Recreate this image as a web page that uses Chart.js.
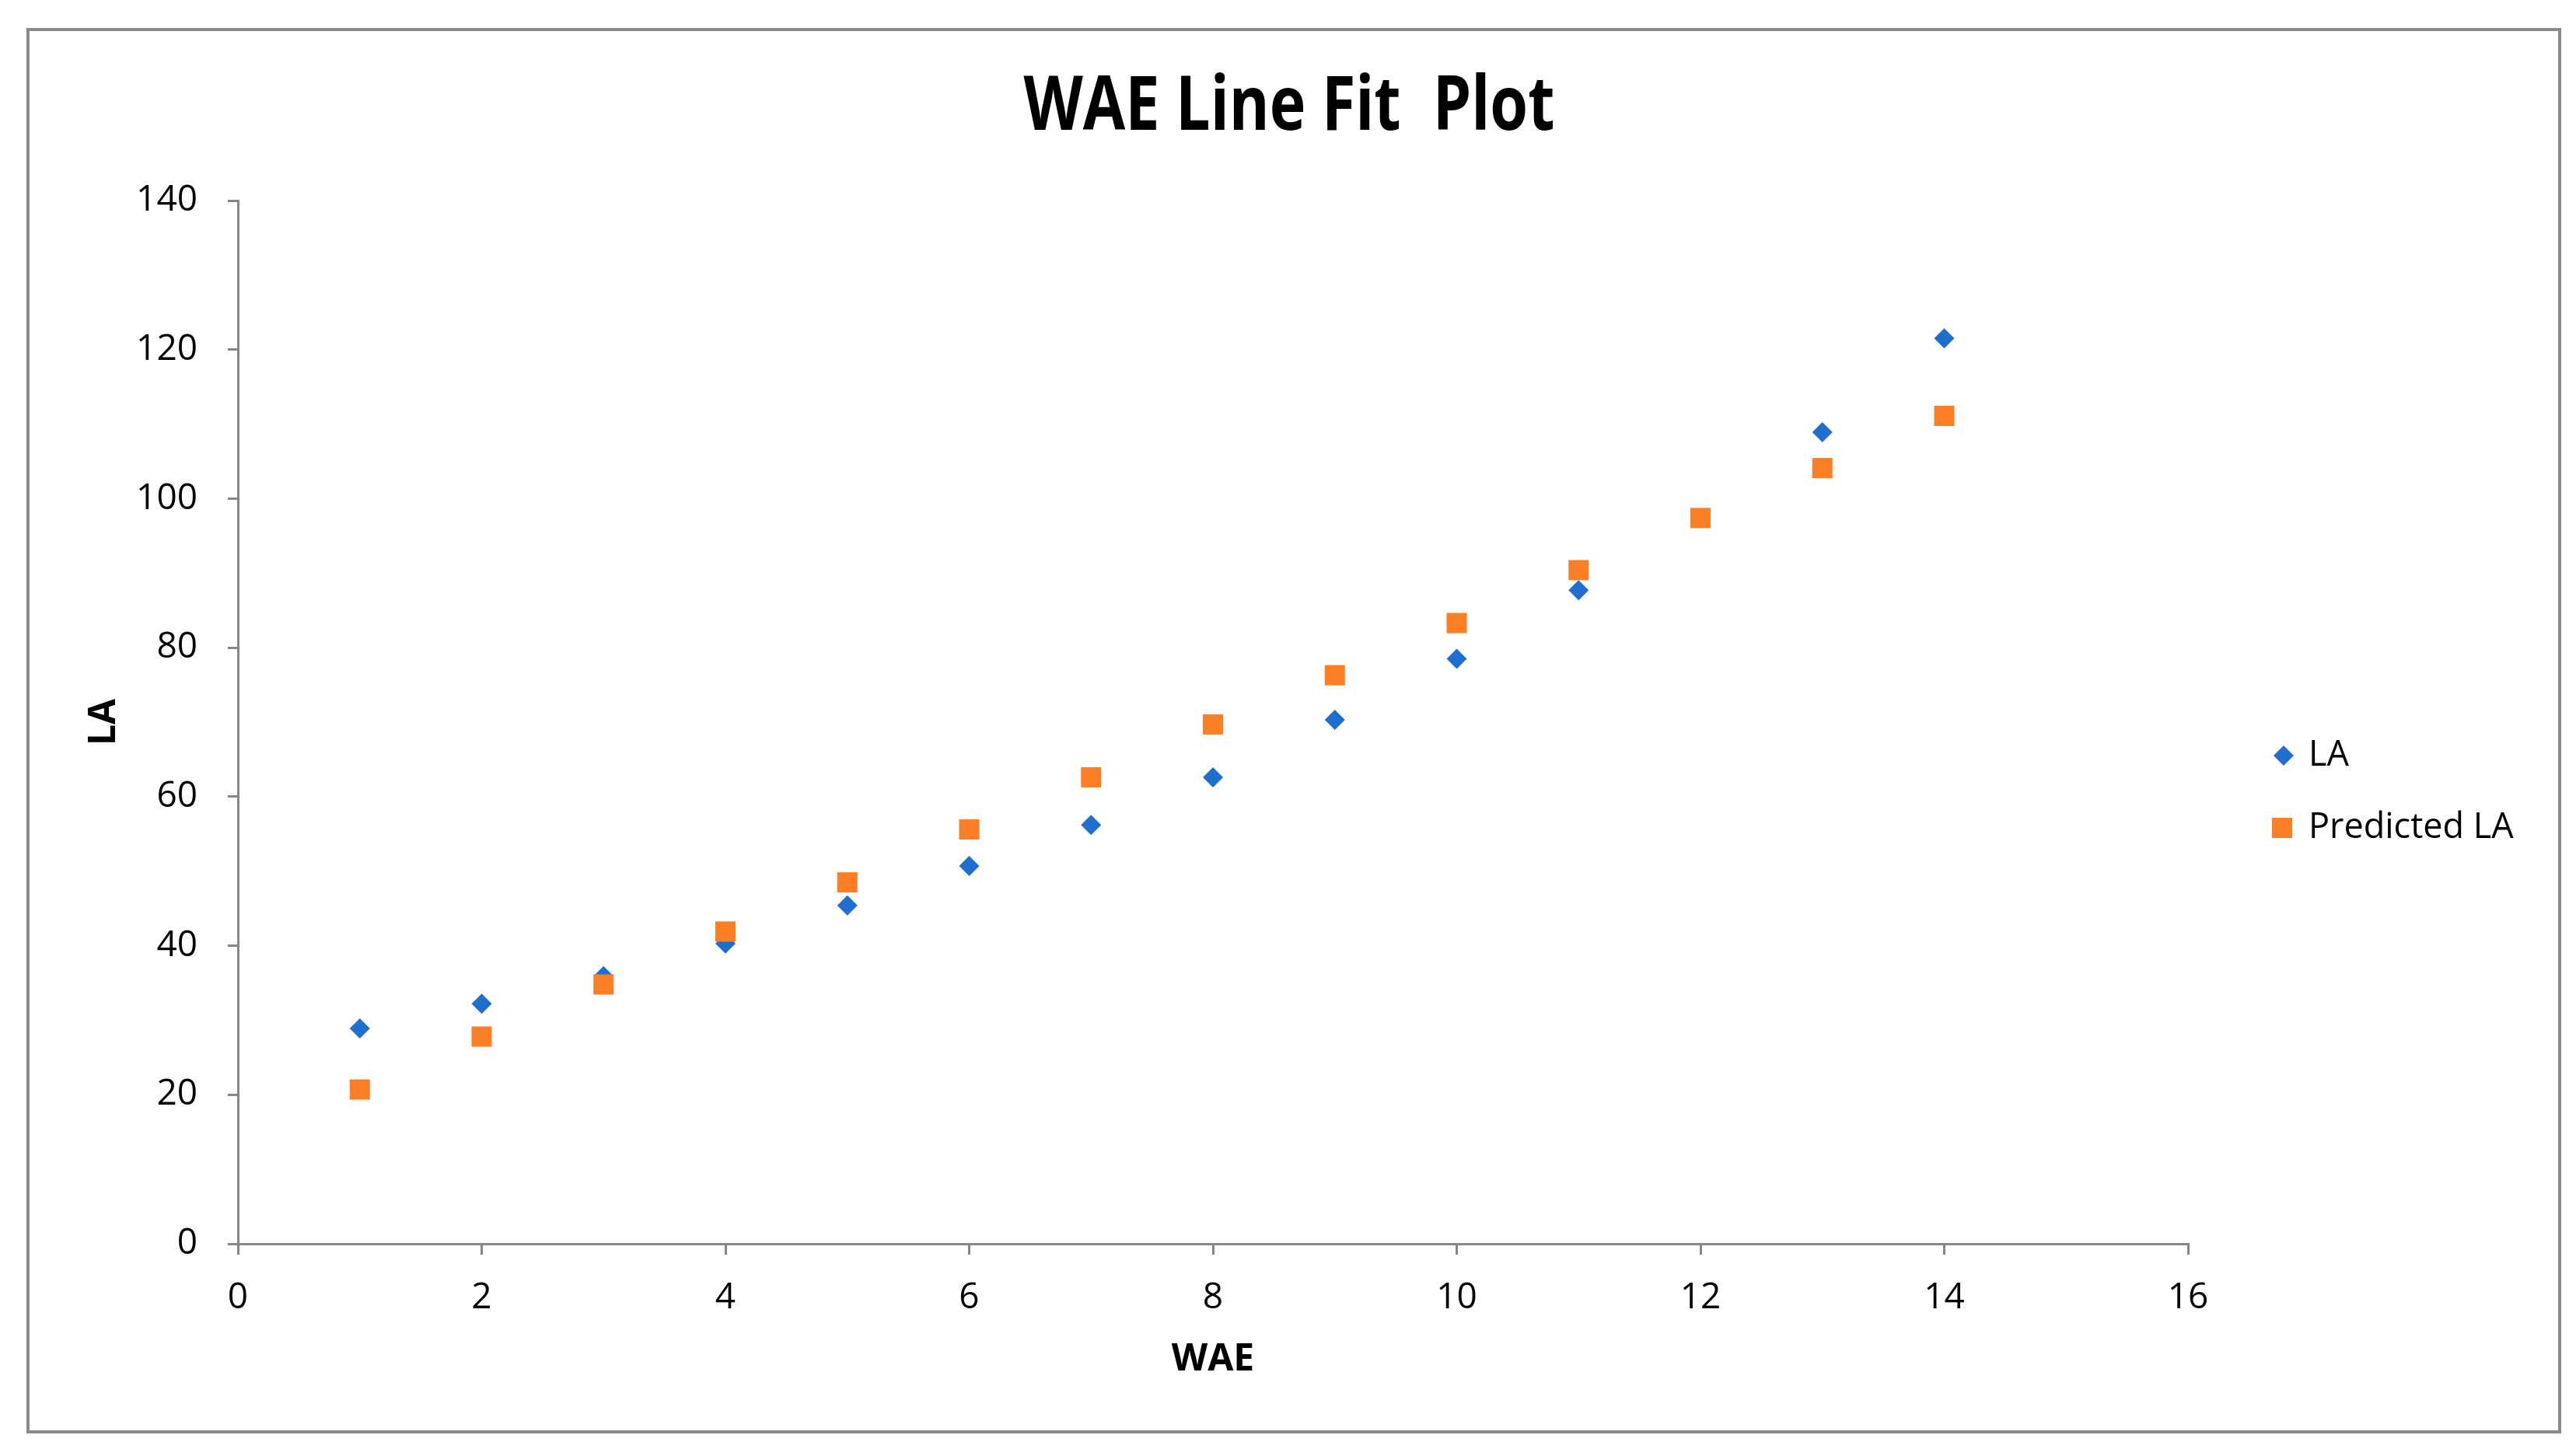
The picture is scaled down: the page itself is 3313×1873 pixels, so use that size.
<!DOCTYPE html>
<html>
<head>
<meta charset="utf-8">
<title>WAE Line Fit Plot</title>
<script src="https://cdn.jsdelivr.net/npm/chart.js@4.4.0/dist/chart.umd.min.js"></script>
<style>
  html, body { margin: 0; padding: 0; background: #fff; }
  #grafico { display: block; }
</style>
</head>
<body>
<canvas id="grafico" width="3313" height="1873"></canvas>
<script>
// dati
const wae = [1, 2, 3, 4, 5, 6, 7, 8, 9, 10, 11, 12, 13, 14];
const la = [28.9, 32.2, 35.9, 40.3, 45.4, 50.7, 56.2, 62.6, 70.3, 78.5, 87.7, 97.4, 108.9, 121.5];
const predictedLa = [20.7, 27.8, 34.8, 41.9, 48.5, 55.6, 62.6, 69.7, 76.3, 83.3, 90.4, 97.4, 104.1, 111.1];
const xTicks = [0, 2, 4, 6, 8, 10, 12, 14, 16];
const yTicks = [0, 20, 40, 60, 80, 100, 120, 140];
const titolo = "WAE Line Fit  Plot";

const blu = "#1f6fcf";
const arancio = "#fd7f25";
const grigio = "#868686";

Chart.defaults.font.family = '"Open Sans", sans-serif';
Chart.defaults.color = "#000";

const dati = {
  datasets: [
    {
      label: "LA",
      data: wae.map((x, i) => ({ x: x, y: la[i] })),
      backgroundColor: blu,
      borderWidth: 0,
      pointStyle: "rectRot",
      pointRadius: 13,
      order: 1,
    },
    {
      label: "Predicted LA",
      data: wae.map((x, i) => ({ x: x, y: predictedLa[i] })),
      backgroundColor: arancio,
      borderWidth: 0,
      pointStyle: "rect",
      pointRadius: 18.4,
      order: 0,
    },
  ],
};

// cornice, titolo e legenda disegnati a mano
const decorazioni = {
  id: "decorazioni",
  beforeDraw(chart) {
    const ctx = chart.ctx;
    ctx.save();
    ctx.fillStyle = "#fff";
    ctx.fillRect(0, 0, chart.width, chart.height);
    ctx.strokeStyle = "#8a8a8a";
    ctx.lineWidth = 4;
    ctx.strokeRect(36, 38, 3256, 1804);
    ctx.restore();
  },
  afterDraw(chart) {
    const ctx = chart.ctx;
    ctx.save();
    ctx.fillStyle = "#000";
    ctx.font = 'bold 96px "Open Sans", sans-serif';
    ctx.textAlign = "center";
    ctx.textBaseline = "middle";
    ctx.fillText(titolo, 1658, 140, 683);

    const righe = [972, 1065];
    chart.data.datasets.forEach(function (ds, i) {
      const y = righe[i];
      ctx.fillStyle = ds.backgroundColor;
      if (ds.pointStyle === "rectRot") {
        ctx.beginPath();
        ctx.moveTo(2937 - 13, y);
        ctx.lineTo(2937, y - 13);
        ctx.lineTo(2937 + 13, y);
        ctx.lineTo(2937, y + 13);
        ctx.closePath();
        ctx.fill();
      } else {
        ctx.fillRect(2935 - 13, y - 13, 26, 26);
      }
      ctx.fillStyle = "#000";
      ctx.font = '45px "Open Sans", sans-serif';
      ctx.textAlign = "left";
      ctx.fillText(ds.label, 2969, y);
    });
    ctx.restore();
  },
};

const opzioni = {
  responsive: false,
  devicePixelRatio: 1,
  animation: false,
  layout: { padding: { top: 258, right: 499, left: 0, bottom: 0 } },
  plugins: {
    legend: { display: false },
    title: { display: false },
    tooltip: { enabled: false },
  },
  scales: {
    x: {
      type: "linear",
      position: "bottom",
      min: 0,
      max: 16,
      afterBuildTicks: (s) => { s.ticks = xTicks.map((v) => ({ value: v })); },
      afterFit: (s) => { s.height = 273; },
      border: { display: true, color: grigio, width: 3 },
      grid: { drawOnChartArea: false, drawTicks: true, tickLength: 14, color: grigio, lineWidth: 3 },
      ticks: { font: { size: 46 }, color: "#000", padding: 28, maxRotation: 0, autoSkip: false },
      title: { display: true, text: "WAE", font: { size: 48, weight: "bold" }, color: "#000", padding: { top: 0, bottom: 95 } },
    },
    y: {
      type: "linear",
      position: "left",
      min: 0,
      max: 140,
      afterBuildTicks: (s) => { s.ticks = yTicks.map((v) => ({ value: v })); },
      afterFit: (s) => { s.width = 306; },
      border: { display: true, color: grigio, width: 3 },
      grid: { drawOnChartArea: false, drawTicks: true, tickLength: 13, color: grigio, lineWidth: 3 },
      ticks: { font: { size: 46 }, color: "#000", padding: 39, autoSkip: false },
      title: { display: true, text: "LA", font: { size: 48, weight: "bold" }, color: "#000", padding: { top: 106, bottom: 0 } },
    },
  },
};

const ctx = document.getElementById("grafico").getContext("2d");
const grafico = new Chart(ctx, {
  type: "scatter",
  data: dati,
  options: opzioni,
  plugins: [decorazioni],
});
</script>
</body>
</html>
